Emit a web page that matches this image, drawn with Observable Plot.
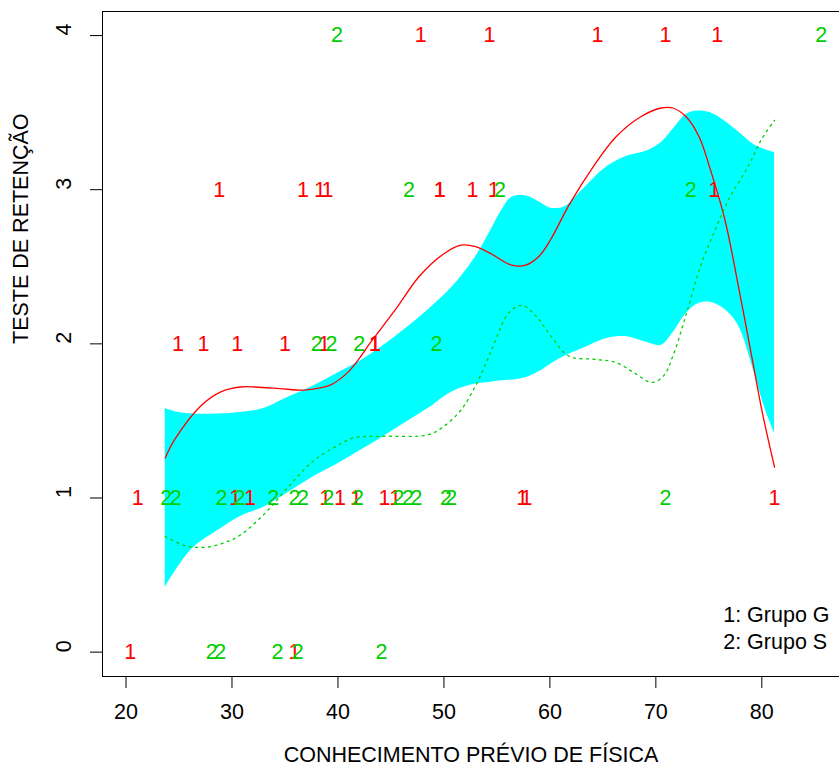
<!DOCTYPE html>
<html>
<head>
<meta charset="utf-8">
<script src="https://cdn.jsdelivr.net/npm/d3@7"></script>
<script src="https://cdn.jsdelivr.net/npm/@observablehq/plot@0.6"></script>
<style>
  html, body { margin: 0; padding: 0; background: #fff; }
</style>
</head>
<body>
<div id="chart"></div>
<script>
// ---- Axis ticks / labels ----
const xTicks = [20, 30, 40, 50, 60, 70, 80];
const yTicks = [0, 1, 2, 3, 4];
const xTitle = "CONHECIMENTO PRÉVIO DE FÍSICA";
const yTitle = "TESTE DE RETENÇÃO";
const legendLabels = ["1: Grupo G", "2: Grupo S"];

// ---- Group 1 (red "1") ----
const g1Prior = [47.8, 54.3, 64.5, 70.9, 75.8,
  28.8, 36.7, 38.3, 39.0, 49.6, 49.6, 52.7, 54.7, 75.5,
  24.9, 27.3, 30.5, 35.0, 38.7, 43.5, 43.5,
  21.1, 30.3, 31.7, 38.8, 40.2, 41.7, 44.4, 45.4, 57.4, 57.8, 81.2,
  20.4, 35.9];
const g1Score = [4, 4, 4, 4, 4,
  3, 3, 3, 3, 3, 3, 3, 3, 3,
  2, 2, 2, 2, 2, 2, 2,
  1, 1, 1, 1, 1, 1, 1, 1, 1, 1, 1,
  0, 0];

// ---- Group 2 (green "2") ----
const g2Prior = [39.9, 85.6,
  46.7, 55.3, 73.3,
  38.0, 39.4, 42.0, 49.3,
  23.8, 24.7, 29.0, 30.7, 33.9, 35.9, 36.7, 39.1, 41.9, 45.7, 46.6, 47.4, 50.2, 50.7, 70.9,
  28.1, 28.9, 34.3, 36.2, 44.1];
const g2Score = [4, 4,
  3, 3, 3,
  2, 2, 2, 2,
  1, 1, 1, 1, 1, 1, 1, 1, 1, 1, 1, 1, 1, 1, 1,
  0, 0, 0, 0, 0];

// ---- Smooth curve group 1 (solid red) ----
const redX = [23.7, 24.6, 27.1, 29.0, 30.8, 32.2, 34.5, 36.6, 37.9, 39.2, 41.0, 43.3, 45.4, 47.7, 49.9, 51.6, 53.0, 54.3, 56.4, 57.7, 59.0, 60.1, 61.8, 64.1, 66.2, 68.5, 70.5, 71.6, 72.9, 74.1, 75.1, 76.5, 77.8, 79.1, 80.0, 81.2];
const redY = [1.26, 1.38, 1.60, 1.69, 1.72, 1.72, 1.71, 1.70, 1.71, 1.73, 1.82, 2.03, 2.22, 2.44, 2.58, 2.64, 2.63, 2.59, 2.51, 2.51, 2.57, 2.68, 2.90, 3.15, 3.34, 3.47, 3.53, 3.53, 3.47, 3.34, 3.14, 2.81, 2.37, 1.90, 1.57, 1.20];

// ---- Smooth curve group 2 (dotted green) ----
const greenX = [23.7, 25.6, 27.5, 29.3, 30.8, 33.1, 35.3, 37.5, 39.7, 41.5, 44.1, 48.5, 49.9, 51.6, 53.0, 54.0, 54.8, 56.1, 57.4, 58.7, 60.1, 61.8, 64.1, 66.2, 68.0, 69.6, 70.7, 71.6, 72.9, 74.2, 75.6, 76.9, 78.7, 80.0, 81.2];
const greenY = [0.75, 0.69, 0.68, 0.71, 0.76, 0.90, 1.07, 1.23, 1.33, 1.39, 1.40, 1.41, 1.46, 1.57, 1.73, 1.88, 2.01, 2.20, 2.25, 2.18, 2.05, 1.92, 1.90, 1.88, 1.81, 1.75, 1.79, 1.92, 2.20, 2.50, 2.74, 2.94, 3.15, 3.33, 3.45];

// ---- Reference band (cyan) ----
const bandX = [23.7, 24.6, 26.4, 28.7, 30.8, 33.0, 35.2, 37.5, 39.7, 41.9, 44.1, 46.4, 48.5, 50.8, 53.0, 54.3, 55.4, 56.4, 57.7, 59.0, 60.1, 61.4, 63.1, 65.4, 67.4, 69.1, 70.5, 71.6, 72.9, 74.0, 75.1, 76.4, 77.7, 79.3, 80.3, 81.2];
const bandHi = [1.58, 1.56, 1.545, 1.545, 1.555, 1.58, 1.65, 1.72, 1.80, 1.88, 1.98, 2.10, 2.22, 2.37, 2.565, 2.72, 2.86, 2.95, 2.96, 2.92, 2.88, 2.89, 3.00, 3.15, 3.22, 3.25, 3.305, 3.39, 3.49, 3.51, 3.50, 3.45, 3.38, 3.29, 3.26, 3.24];
const bandLo = [0.42, 0.52, 0.68, 0.79, 0.88, 0.94, 1.03, 1.13, 1.21, 1.30, 1.39, 1.49, 1.58, 1.69, 1.74, 1.75, 1.76, 1.765, 1.78, 1.82, 1.87, 1.92, 1.97, 2.035, 2.045, 2.01, 1.99, 2.07, 2.20, 2.26, 2.27, 2.23, 2.13, 1.81, 1.58, 1.42];

// ---- Build tables ----
const g1 = g1Prior.map((x, i) => ({x, y: g1Score[i]}));
const g2 = g2Prior.map((x, i) => ({x, y: g2Score[i]}));
const red = redX.map((x, i) => ({x, y: redY[i]}));
const green = greenX.map((x, i) => ({x, y: greenY[i]}));
const band = bandX.map((x, i) => ({x, lo: bandLo[i], hi: bandHi[i]}));

const RED = "#FF0000", GREEN = "#00CD00", CYAN = "#00FFFF";
const FS = 21.5;
const xDomain = [17.78, 87.33];
const yDomain = [-0.158, 4.156];

const chart = Plot.plot({
  width: 839,
  height: 774,
  marginLeft: 102,
  marginRight: 0,
  marginTop: 11,
  marginBottom: 98,
  style: {
    fontFamily: '"Liberation Sans", Arial, Helvetica, sans-serif',
    fontSize: FS + "px",
    background: "#fff",
    color: "#000"
  },
  x: {domain: xDomain},
  y: {domain: yDomain},
  marks: [
    Plot.areaY(band, {x: "x", y1: "lo", y2: "hi", fill: CYAN, curve: "catmull-rom"}),
    Plot.text(g1, {x: "x", y: "y", text: () => "1", fill: RED, fontSize: FS}),
    Plot.text(g2, {x: "x", y: "y", text: () => "2", fill: GREEN, fontSize: FS}),
    Plot.line(red, {x: "x", y: "y", stroke: RED, strokeWidth: 1.3, curve: "catmull-rom"}),
    Plot.line(green, {x: "x", y: "y", stroke: GREEN, strokeWidth: 1.3, strokeDasharray: "2,4.5", curve: "catmull-rom"}),
    // frame (left, bottom, top)
    Plot.ruleX([xDomain[0]], {stroke: "#000", strokeWidth: 1}),
    Plot.ruleY(yDomain, {stroke: "#000", strokeWidth: 1}),
    // axes ticks
    Plot.axisX({ticks: xTicks, tickSize: 12, tickFormat: () => "", label: null}),
    Plot.axisY({ticks: yTicks, tickSize: 12, tickFormat: () => "", label: null}),
    // tick labels
    Plot.text(xTicks, {x: d => d, text: d => String(d), frameAnchor: "bottom", dy: 42, fontSize: FS, fill: "#000"}),
    Plot.text(yTicks, {y: d => d, text: d => String(d), frameAnchor: "left", dx: -38.5, rotate: -90, fontSize: FS, fill: "#000"}),
    // axis titles
    Plot.text([xTitle], {text: d => d, frameAnchor: "bottom", dy: 85.5, fontSize: FS, fill: "#000"}),
    Plot.text([yTitle], {text: d => d, frameAnchor: "left", dx: -81, rotate: -90, fontSize: FS, fill: "#000"}),
    // legend
    Plot.text([legendLabels.join("\n")], {text: d => d, frameAnchor: "bottom-right", textAnchor: "start", lineAnchor: "middle", lineHeight: 27 / FS, dx: -116.3, dy: -49.5, fontSize: FS, fill: "#000"})
  ]
});
document.getElementById("chart").appendChild(chart);
</script>
</body>
</html>
